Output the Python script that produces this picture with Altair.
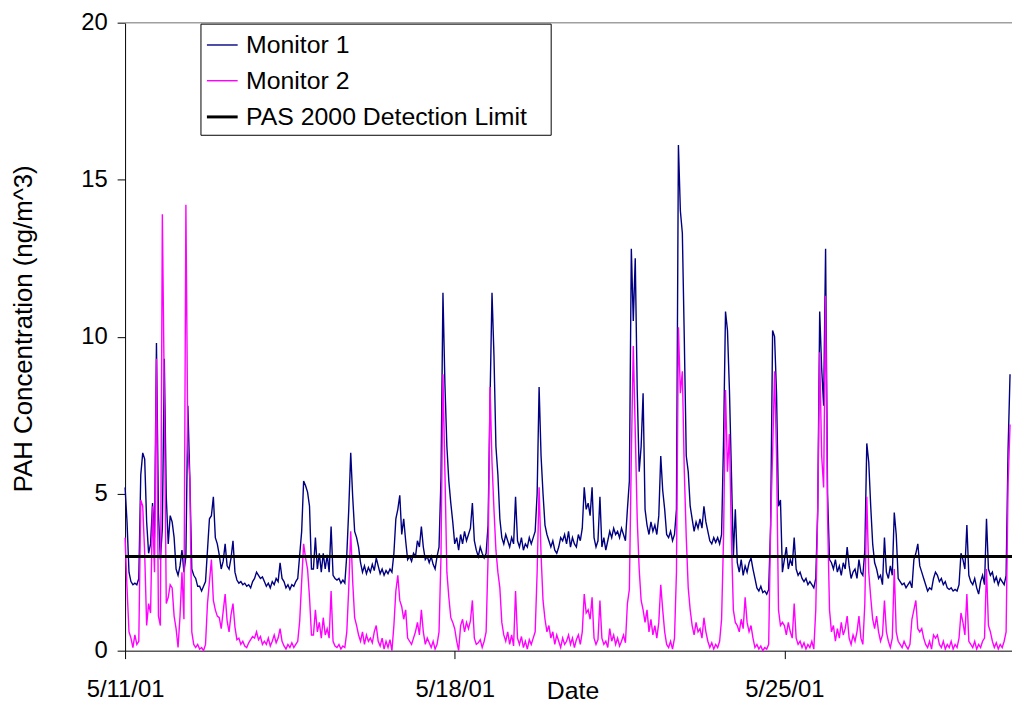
import altair as alt
import pandas as pd

FONT = "Liberation Sans"
START = pd.Timestamp("2001-05-11 00:00:00")

# Hourly readings (ng/m^3), one row per day starting 5/11/01 00:00
monitor1_days = [
    [5.2, 4.1, 2.5, 2.2, 2.1, 2.15, 2.1, 2.3, 5.6, 6.3, 6.1, 4.1, 3.1, 3.4, 4.7, 3.6, 9.8, 4.4, 2.9, 3.9, 9.3, 4.9, 3.4, 4.3],
    [4.1, 3.6, 2.6, 2.4, 2.7, 3.2, 2.5, 3.0, 7.8, 5.5, 2.6, 2.4, 2.3, 2.05, 2.05, 1.9, 2.05, 2.2, 3.2, 4.2, 4.3, 4.9, 3.6, 3.4],
    [3.05, 2.6, 2.85, 3.4, 2.7, 2.6, 2.95, 3.5, 2.5, 2.25, 2.15, 2.2, 2.1, 2.15, 2.05, 2.1, 2.0, 2.2, 2.3, 2.5, 2.4, 2.3, 2.35, 2.2],
    [2.05, 2.15, 2.0, 2.2, 2.1, 2.3, 2.2, 2.8, 2.3, 2.2, 2.0, 2.1, 1.95, 2.1, 2.05, 2.2, 2.3, 3.05, 3.8, 5.4, 5.25, 5.05, 4.6, 2.6],
    [2.6, 3.6, 2.6, 3.1, 2.5, 3.1, 2.6, 3.05, 2.5, 3.95, 2.4, 2.3, 2.25, 2.3, 2.15, 2.25, 2.15, 3.05, 4.5, 6.3, 4.9, 3.8, 3.6, 3.3],
    [2.8, 2.5, 2.7, 2.45, 2.65, 2.5, 2.75, 2.55, 2.95, 2.7, 2.45, 2.6, 2.4, 2.55, 2.45, 2.6, 2.5, 3.1, 4.2, 4.5, 4.95, 3.7, 4.2, 3.5],
    [2.9, 3.0, 2.85, 3.1, 3.0, 3.5, 3.3, 3.95, 3.3, 2.9, 3.0, 2.8, 3.0, 2.75, 2.6, 3.0, 3.3, 5.5, 11.4, 8.5, 6.5, 5.4, 4.7, 4.1],
    [3.4, 3.6, 3.2, 3.7, 3.4, 3.8, 3.5, 3.7, 3.9, 4.7, 3.5, 3.2, 3.0, 3.3, 3.1, 2.95, 3.1, 4.0, 8.0, 11.4, 9.4, 6.5, 5.6, 4.2],
    [3.6, 3.4, 3.7, 3.5, 3.3, 3.6, 3.4, 4.9, 3.5, 3.3, 3.6, 3.2, 3.4, 3.3, 3.6, 3.4, 3.6, 3.8, 5.0, 8.4, 6.2, 5.0, 4.0, 3.7],
    [3.5, 3.3, 3.5, 3.2, 3.1, 3.3, 3.6, 3.5, 3.7, 3.4, 3.8, 3.3, 3.6, 3.4, 3.3, 3.7, 3.5, 3.9, 5.2, 4.5, 4.7, 4.3, 5.2, 3.6],
    [3.3, 3.5, 4.9, 3.3, 3.6, 3.2, 3.5, 3.8, 3.6, 3.9, 3.7, 3.8, 3.6, 3.9, 3.7, 3.5, 4.5, 5.4, 12.8, 10.5, 12.5, 8.3, 5.7, 6.5],
    [8.2, 4.5, 4.0, 3.7, 4.1, 3.8, 4.0, 3.7, 4.3, 6.2, 5.1, 4.5, 3.7, 3.6, 3.8, 3.5, 3.7, 4.5, 16.1, 14.0, 13.3, 9.9, 6.2, 5.7],
    [4.6, 4.2, 3.8, 4.1, 3.9, 4.2, 3.9, 4.6, 4.1, 3.8, 3.5, 3.4, 3.6, 3.45, 3.6, 3.4, 3.7, 6.7, 10.8, 10.2, 8.3, 5.7, 3.0, 4.5],
    [2.8, 2.5, 2.9, 2.4, 2.7, 2.5, 2.8, 2.95, 2.6, 2.3, 2.0, 1.9, 2.05, 1.85, 1.9, 1.8, 1.95, 4.0, 10.2, 10.0, 8.2, 4.6, 4.8, 2.5],
    [2.9, 3.3, 2.6, 2.9, 2.7, 3.6, 2.6, 2.4, 2.5, 2.3, 2.2, 2.3, 2.1, 2.2, 2.1, 2.0, 2.3, 4.5, 10.8, 9.0, 7.8, 12.8, 5.0, 2.9],
    [2.8, 2.6, 2.9, 2.5, 2.7, 2.4, 2.8, 2.6, 3.3, 2.7, 2.3, 2.5, 2.6, 2.3, 2.9, 2.5, 2.4, 3.2, 6.6, 6.0, 4.6, 3.4, 2.8, 2.6],
    [2.3, 2.4, 2.1, 3.6, 2.5, 2.3, 2.7, 2.4, 4.4, 3.7, 2.3, 2.2, 2.1, 2.15, 2.0, 2.1, 2.2, 2.0, 2.9, 3.1, 3.4, 2.7, 2.5, 2.3],
    [2.1, 1.9, 2.0, 1.95, 2.3, 2.5, 2.4, 2.2, 2.3, 2.1, 2.2, 2.0, 1.95, 2.0, 1.9, 1.95, 1.9, 2.1, 3.1, 2.9, 2.6, 4.0, 2.4, 2.2],
    [2.1, 2.3, 2.0, 1.8, 2.2, 2.4, 2.1, 4.2, 2.6, 2.4, 2.5, 2.2, 2.35, 2.1, 2.3, 2.2, 2.1, 2.4, 6.4, 8.8],
]

monitor2_days = [
    [3.6, 2.0, 0.6, 0.4, 0.1, 0.5, 0.2, 0.3, 4.8, 4.6, 3.1, 0.8, 1.5, 1.2, 4.6, 2.5, 9.3, 1.1, 0.8, 13.9, 8.1, 1.5, 1.7, 2.1],
    [2.0, 1.1, 0.7, 0.1, 1.1, 2.5, 1.0, 14.2, 6.4, 5.5, 0.6, 0.2, 0.1, 0.2, 0.05, 0.1, 0.0, 0.2, 1.5, 2.2, 2.9, 1.6, 1.3, 1.1],
    [1.05, 0.7, 1.25, 1.8, 0.95, 0.6, 1.15, 1.5, 0.75, 0.35, 0.4, 0.2, 0.3, 0.15, 0.1, 0.25, 0.35, 0.45, 0.4, 0.6, 0.35, 0.45, 0.2, 0.3],
    [0.2, 0.4, 0.15, 0.3, 0.5, 0.25, 0.4, 0.7, 0.3, 0.15, 0.05, 0.2, 0.1, 0.25, 0.1, 0.2, 0.3, 0.95, 2.2, 3.4, 2.95, 2.6, 1.7, 0.5],
    [0.5, 1.3, 0.6, 0.9, 0.4, 1.05, 0.5, 0.7, 0.4, 1.9, 0.3, 0.15, 0.1, 0.2, 0.05, 0.15, 0.1, 0.6, 2.0, 3.8, 2.2, 1.05, 0.8, 0.5],
    [0.3, 0.6, 0.2, 0.5, 0.3, 0.4, 0.25, 0.6, 0.8, 0.3, 0.15, 0.4, 0.05, 0.3, 0.1, 0.35, 0.0, 0.8, 1.9, 2.4, 1.6, 1.4, 1.0, 1.3],
    [0.4, 0.3, 0.2, 0.4, 0.6, 0.9, 0.5, 1.3, 0.6, 0.2, 0.4, 0.25, 0.1, 0.3, 0.05, 0.2, 0.6, 3.0, 8.8, 5.7, 2.5, 1.7, 1.05, 0.9],
    [0.7, 0.3, 0.0, 0.8, 1.0, 0.6, 0.9, 0.7, 0.95, 1.6, 0.4, 0.2, 0.25, 0.35, 0.1, 0.3, 0.6, 3.0, 8.4, 6.0, 4.5, 3.2, 2.5, 2.0],
    [0.9, 0.5, 0.3, 0.6, 0.2, 0.5, 0.15, 1.9, 0.4, 0.2, 0.45, 0.1, 0.3, 0.05, 0.35, 0.2, 0.4, 0.6, 2.5, 5.2, 3.05, 1.6, 1.0, 0.6],
    [0.8, 0.4, 0.6, 0.2, 0.5, 0.3, 0.1, 0.4, 0.2, 0.3, 0.5, 0.2, 0.4, 0.1, 0.35, 0.5, 0.2, 0.6, 1.8, 1.2, 1.3, 1.0, 1.7, 0.4],
    [0.2, 0.35, 1.6, 0.4, 0.2, 0.3, 0.1, 0.7, 0.3, 0.5, 0.2, 0.4, 0.15, 0.3, 0.5, 0.25, 1.5, 1.95, 6.2, 9.7, 7.0, 4.2, 2.6, 1.6],
    [1.3, 0.9, 1.3, 0.6, 1.0, 0.5, 0.8, 0.4, 0.9, 2.1, 1.3, 0.6, 0.2, 0.1, 0.3, 0.05, 0.4, 2.5, 10.3, 8.2, 8.9, 5.7, 3.6, 2.0],
    [1.3, 0.8, 0.5, 0.9, 0.6, 0.7, 0.4, 1.05, 0.6, 0.3, 0.1, 0.25, 0.05, 0.2, 0.1, 0.3, 1.0, 3.6, 8.3, 5.7, 6.9, 3.6, 1.3, 0.9],
    [0.8, 0.6, 1.0, 0.7, 1.7, 0.9, 0.6, 0.8, 0.4, 0.1, 0.2, 0.05, 0.15, 0.0, 0.1, 0.05, 0.2, 4.0, 6.3, 8.9, 6.2, 1.3, 0.8, 0.9],
    [0.8, 0.5, 0.9, 0.6, 0.4, 1.5, 0.4, 0.2, 0.3, 0.1, 0.25, 0.05, 0.2, 0.1, 0.3, 0.05, 1.3, 4.5, 9.5, 6.2, 5.2, 11.3, 4.3, 1.3],
    [0.6, 0.8, 0.3, 0.7, 0.4, 0.9, 0.5, 0.7, 1.1, 0.4, 0.2, 0.5, 0.3, 0.6, 1.1, 0.4, 0.2, 1.5, 4.9, 2.5, 1.7, 1.0, 0.7, 1.1],
    [0.6, 0.3, 0.5, 1.6, 0.6, 0.3, 0.1, 0.4, 2.6, 0.6, 0.3, 0.2, 0.1, 0.3, 0.15, 0.05, 0.2, 1.0, 1.3, 1.6, 0.7, 0.6, 0.7, 0.4],
    [0.2, 0.1, 0.3, 0.05, 0.5, 0.4, 0.5, 0.2, 0.1, 0.3, 0.05, 0.2, 0.1, 0.3, 0.05, 0.2, 0.1, 0.4, 1.2, 0.9, 0.5, 1.8, 0.3, 0.2],
    [0.1, 0.3, 0.05, 0.2, 0.1, 0.3, 0.4, 2.6, 0.8, 0.6, 0.3, 0.1, 0.25, 0.05, 0.2, 0.1, 0.3, 0.6, 5.3, 7.2],
]

detection_hours = [0, 452]
detection_values = [3.0, 3.0]

series_names = ["Monitor 1", "Monitor 2", "PAS 2000 Detection Limit"]
series_colors = ["#000080", "#FF00FF", "#000000"]
series_widths = [1.4, 1.4, 3.0]

y_ticks = [0, 5, 10, 15, 20]
x_tick_days = [11, 18, 25]

for d in monitor1_days[:-1] + monitor2_days[:-1]:
    assert len(d) == 24, len(d)

rows = []
def add_series(name, hours, values):
    for h, v in zip(hours, values):
        rows.append({"time": (START + pd.Timedelta(hours=h)).strftime("%Y-%m-%dT%H:%M:%S"),
                     "series": name, "value": v})

m1 = [v for day in monitor1_days for v in day]
m2 = [v for day in monitor2_days for v in day]
add_series(series_names[0], range(len(m1)), m1)
add_series(series_names[1], range(len(m2)), m2)
add_series(series_names[2], detection_hours, detection_values)
df = pd.DataFrame(rows)

axis_common = dict(
    labelFont=FONT, titleFont=FONT, labelFontSize=24,
    labelColor="black", titleColor="black", titleFontWeight="normal",
    domainColor="black", tickColor="black", domainWidth=1, tickWidth=1,
    grid=False, tickSize=8,
)

legend = alt.Legend(
    title=None, orient="none", legendX=76, legendY=1,
    fillColor="white", strokeColor="black", padding=5,
    symbolType="stroke", symbolSize=961, labelOffset=7,
    labelFont=FONT, labelFontSize=25, labelColor="black", labelLimit=500,
    rowPadding=6, labelExpr="datum.label + '\u2800'",
)

x_enc = alt.X(
    "time:T",
    scale=alt.Scale(domain=[alt.DateTime(year=2001, month=5, date=11, hours=0),
                            alt.DateTime(year=2001, month=5, date=29, hours=20)]),
    axis=alt.Axis(
        values=[alt.DateTime(year=2001, month=5, date=d) for d in x_tick_days],
        format="%-m/%d/%y", labelPadding=38, labelBaseline="alphabetic",
        labelFlush=False, labelOverlap=False,
        title="Date", titleFontSize=25, titleX=451, titleY=48,
        titleBaseline="alphabetic", titleAlign="center",
        **axis_common,
    ),
)
y_enc = alt.Y(
    "value:Q",
    scale=alt.Scale(domain=[0, 20], nice=False),
    axis=alt.Axis(
        values=y_ticks, labelPadding=10,
        title="PAH Concentration (ng/m^3)", titleFontSize=26, titleX=-94, titleY=308,
        titleBaseline="alphabetic", titleAlign="center", titleAngle=270,
        **axis_common,
    ),
)

lines = alt.Chart(df).mark_line(interpolate="linear").encode(
    x=x_enc,
    y=y_enc,
    color=alt.Color("series:N", scale=alt.Scale(domain=series_names, range=series_colors), legend=legend),
    strokeWidth=alt.StrokeWidth("series:N",
                                scale=alt.Scale(type="ordinal", domain=series_names, range=series_widths),
                                legend=legend),
)

top_border = alt.Chart(pd.DataFrame({"v": [20]})).mark_rule(color="#a0a0a0", strokeWidth=1.5).encode(
    y=alt.Y("v:Q")
)

chart = alt.layer(top_border, lines).properties(
    width=894, height=633,
    autosize=alt.AutoSizeParams(type="none"),
    padding={"left": 118, "top": 12, "right": 0, "bottom": 54},
    background="white",
).configure_view(stroke="transparent")

chart.save("out.html", embed_options={"renderer": "svg", "actions": False})
